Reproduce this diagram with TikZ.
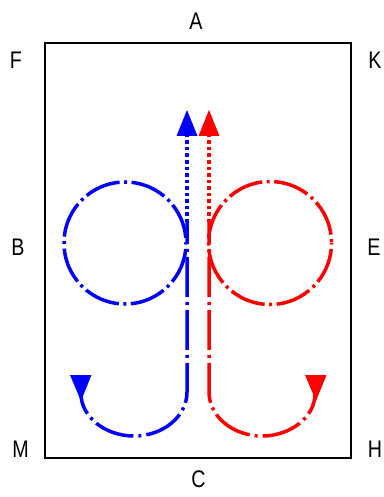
\documentclass[tikz,border=0pt]{standalone}
\usepackage{fontspec}
\setmainfont{Liberation Sans}
\begin{document}
\begin{tikzpicture}[x=1pt,y=-1pt,
  lbl/.style={font=\fontsize{24}{24}\selectfont, inner sep=0pt, xscale=0.82},
  frame/.style={draw=black, line width=2pt},
  dashdotline/.style={line width=3.5pt, dash pattern=on 40pt off 5pt on 3pt off 5pt},
  circline/.style={line width=3.5pt, dash pattern=on 36pt off 4.5pt on 3pt off 4.5pt, dash phase=42pt},
  dotline/.style={line width=3.5pt, dash pattern=on 3.5pt off 3pt}]
\useasboundingbox (0,0) rectangle (383,497);
\fill[white] (0,0) rectangle (383,497);
% frame
\coordinate (tl) at (45,43);
\coordinate (br) at (351,458);
\draw[frame] (tl) rectangle (br);
% labels
\node[lbl] (A) at (196,21) {A};
\node[lbl] (F) at (16,60) {F};
\node[lbl] (K) at (375,60) {K};
\node[lbl] (B) at (18,247) {B};
\node[lbl] (E) at (374,247) {E};
\node[lbl] (M) at (20.5,449) {M};
\node[lbl] (H) at (375,449) {H};
\node[lbl] (C) at (198.5,479) {C};
% circles
\draw[blue, circline] (125,243) circle[radius=61];
\draw[red, circline] (270,243) circle[radius=61.5];
% blue path
\coordinate (bstart) at (81,394);
\coordinate (bbot) at (134,436);
\coordinate (bturn) at (187,392);
\coordinate (bmid) at (187,222);
\coordinate (btop) at (187,135);
\draw[blue, dashdotline, dash phase=19pt] (bstart) .. controls (81,416.3) and (104.7,436) .. (bbot)
   .. controls (163.3,436) and (187,416.3) .. (bturn) -- (bmid);
\draw[blue, dotline] (bmid) -- (btop);
\fill[blue] (176.5,136) -- (187,110) -- (197.5,136) -- cycle;
\fill[blue] (70,375) -- (91.5,375) -- (81,401) -- cycle;
% red path
\coordinate (rstart) at (315,394);
\coordinate (rbot) at (262,436);
\coordinate (rturn) at (209,392);
\coordinate (rmid) at (209,222);
\coordinate (rtop) at (209,135);
\draw[red, dashdotline, dash phase=19pt] (rstart) .. controls (315,416.3) and (291.3,436) .. (rbot)
   .. controls (232.7,436) and (209,416.3) .. (rturn) -- (rmid);
\draw[red, dotline] (rmid) -- (rtop);
\fill[red] (198.5,136) -- (209,110) -- (219.5,136) -- cycle;
\fill[red] (305,375) -- (326.5,375) -- (316,401) -- cycle;
\end{tikzpicture}
\end{document}
